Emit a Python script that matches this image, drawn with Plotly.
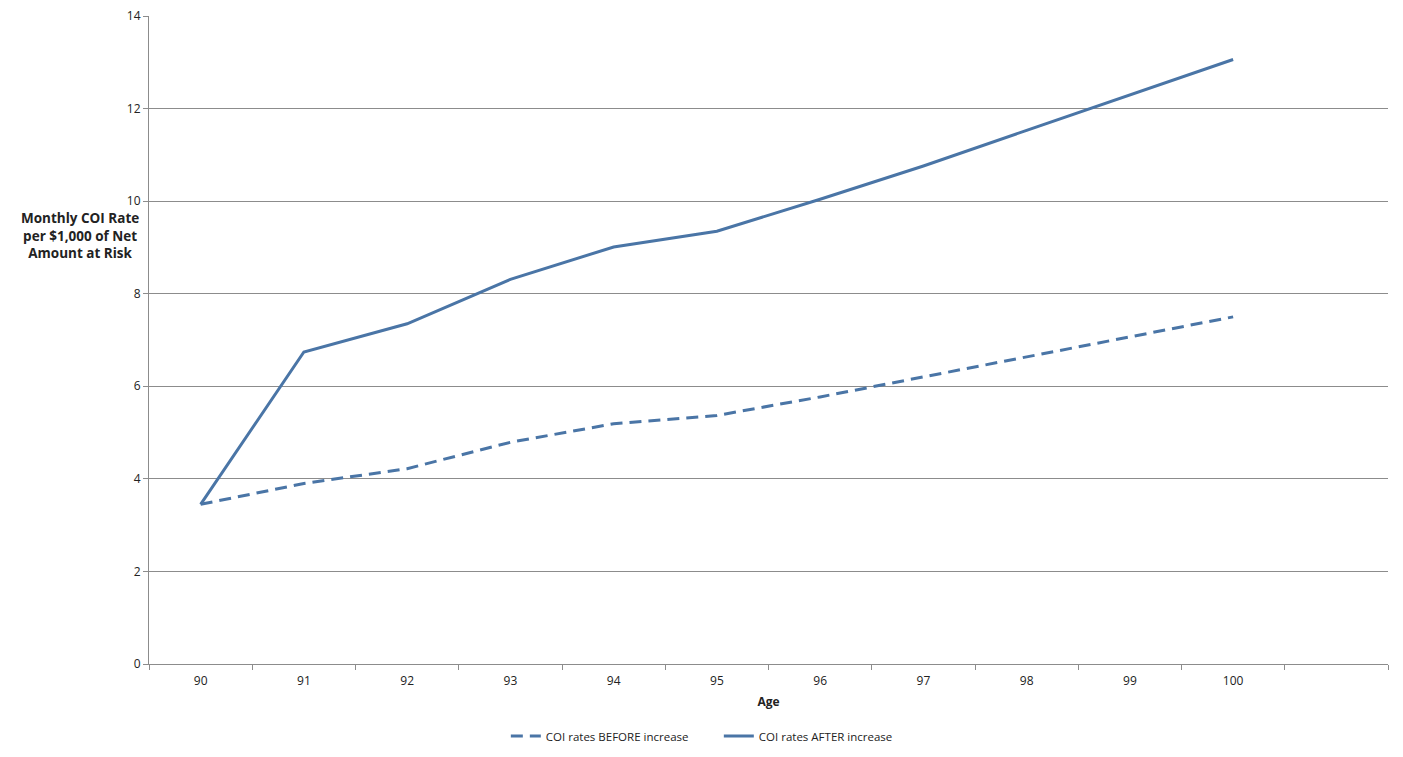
import plotly.graph_objects as go

# ages and monthly COI rates
ages = [90, 91, 92, 93, 94, 95, 96, 97, 98, 99, 100]
coi_before = [3.45, 3.90, 4.22, 4.79, 5.19, 5.37, 5.77, 6.20, 6.63, 7.06, 7.50]
coi_after = [3.45, 6.74, 7.35, 8.31, 9.01, 9.35, 10.04, 10.76, 11.53, 12.29, 13.06]

y_ticks = [0, 2, 4, 6, 8, 10, 12, 14]

line_color = "#4a75a6"
grid_color = "#8c8c8c"

fig = go.Figure()
fig.add_trace(go.Scatter(x=ages, y=coi_before, mode="lines", name="COI rates BEFORE increase",
                         line=dict(color=line_color, width=3, dash="12px,7px")))
fig.add_trace(go.Scatter(x=ages, y=coi_after, mode="lines", name="COI rates AFTER increase",
                         line=dict(color=line_color, width=3)))

# page body adds 8px around the figure, so the size is trimmed to fit the window
fig.update_layout(
    width=1387, height=741,
    plot_bgcolor="white", paper_bgcolor="white",
    font=dict(family="Open Sans", size=12, color="#222222"),
    margin=dict(l=141, r=7, t=8, b=85),
    showlegend=True,
    # container coords so the legend does not shrink the plot area
    legend=dict(orientation="h", xref="paper", x=0.288, xanchor="left",
                yref="container", y=0.0175, yanchor="middle",
                font=dict(size=11.5), itemwidth=30, entrywidth=168),
    xaxis=dict(range=[89.5, 101.5], tickvals=ages, ticktext=[str(a) for a in ages],
               ticks="outside", ticklen=6, tickcolor="rgba(0,0,0,0)",
               showgrid=False, zeroline=False, automargin=False,
               showline=True, linecolor=grid_color, linewidth=1,
               minor=dict(tick0=89.5, dtick=1, ticks="outside", ticklen=5,
                          tickcolor=grid_color, showgrid=False),
               title=dict(text="<b>Age</b>", standoff=9, font=dict(size=12))),
    yaxis=dict(range=[0, 14], tickvals=y_ticks, showgrid=True, gridcolor=grid_color,
               gridwidth=1, zeroline=False, showline=True, linecolor=grid_color,
               linewidth=1, ticks="outside", ticklen=5, tickcolor=grid_color,
               automargin=False, ticklabeloverflow="allow"),
)

fig.add_annotation(text="<b>Monthly COI Rate<br>per $1,000 of Net<br>Amount at Risk</b>",
                   xref="paper", yref="paper", x=-0.0557, y=0.661,
                   xanchor="center", yanchor="middle", showarrow=False,
                   align="center", font=dict(size=13.5))

fig.write_html("out.html")
